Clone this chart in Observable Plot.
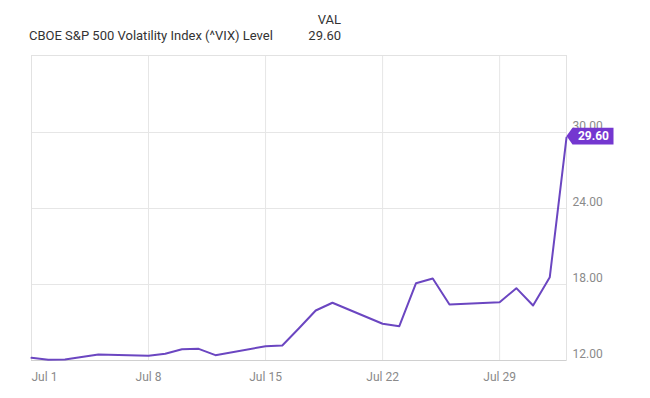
<!DOCTYPE html>
<html><head><meta charset="utf-8">
<script src="https://cdn.jsdelivr.net/npm/d3@7"></script>
<script src="https://cdn.jsdelivr.net/npm/@observablehq/plot@0.6"></script>
<style>
body{margin:0;background:#fff;font-family:Roboto,sans-serif;}
#legend{position:relative;height:48px;width:650px;color:#333;font-size:13px;}
#legend span{position:absolute;white-space:nowrap;line-height:1;}
#chart svg{display:block;}
</style></head><body>
<div id="legend">
 <span id="lg-name" style="left:29px;top:29px"></span>
 <span id="lg-head" style="right:309px;top:13px"></span>
 <span id="lg-val" style="right:309px;top:29px"></span>
</div>
<div id="chart"></div>
<script>
// ---- data ----
const seriesName = "CBOE S&P 500 Volatility Index (^VIX) Level";
const valueHeader = "VAL";
const dates = ["2024-07-01","2024-07-02","2024-07-03","2024-07-05","2024-07-08","2024-07-09","2024-07-10","2024-07-11","2024-07-12","2024-07-15","2024-07-16","2024-07-17","2024-07-18","2024-07-19","2024-07-22","2024-07-23","2024-07-24","2024-07-25","2024-07-26","2024-07-29","2024-07-30","2024-07-31","2024-08-01","2024-08-02"];
const vix = [12.21,12.06,12.07,12.47,12.37,12.53,12.89,12.92,12.42,13.13,13.18,14.55,15.95,16.56,14.90,14.71,18.10,18.47,16.42,16.60,17.71,16.34,18.58,29.60];
const xTickDates = ["2024-07-01","2024-07-08","2024-07-15","2024-07-22","2024-07-29"];
const yTickValues = [12,18,24,30];
const xDomain = ["2024-07-01","2024-08-02"];
const yDomain = [12,36.08];

// ---- build ----
const data = dates.map((d,i)=>({date:new Date(d), value:vix[i]}));
const last = data[data.length-1];
document.getElementById("lg-name").textContent = seriesName;
document.getElementById("lg-head").textContent = valueHeader;
document.getElementById("lg-val").textContent = last.value.toFixed(2);

const xt = xTickDates.map(d=>new Date(d));
const lineColor = "#6b46c1";
const badgeColor = "#7437d0";
const fmtX = d3.utcFormat("%b %-d");

const badge = {draw(ctx){ctx.moveTo(0,0);ctx.lineTo(6,-8.3);ctx.lineTo(47,-8.3);ctx.lineTo(47,8.3);ctx.lineTo(6,8.3);ctx.closePath();}};

const chart = Plot.plot({
  width:650, height:350,
  marginTop:7, marginBottom:38, marginLeft:31, marginRight:84,
  x:{type:"utc", domain:xDomain.map(d=>new Date(d))},
  y:{domain:yDomain},
  style:{fontFamily:"Roboto, sans-serif", fontSize:"12px", color:"#8a8a8a", background:"white"},
  marks:[
    Plot.gridY(yTickValues,{stroke:"#e6e6e6", strokeOpacity:1}),
    Plot.gridX(xt.slice(1),{stroke:"#e6e6e6", strokeOpacity:1}),
    Plot.frame({stroke:"#e2e2e2"}),
    Plot.ruleY([yDomain[0]],{stroke:"#d0d0d0"}),
    Plot.axisY(yTickValues,{anchor:"right", tickSize:0, tickPadding:6, dy:-6, tickFormat:d=>d.toFixed(2), label:null}),
    Plot.axisX(xt.slice(1),{anchor:"bottom", tickSize:0, tickPadding:12, tickFormat:fmtX, label:null}),
    Plot.axisX(xt.slice(0,1),{anchor:"bottom", tickSize:0, tickPadding:12, tickFormat:fmtX, textAnchor:"start", label:null}),
    Plot.line(data,{x:"date", y:"value", stroke:lineColor, strokeWidth:2, strokeLinejoin:"round"}),
    Plot.dot([last],{x:"date", y:"value", symbol:badge, r:5, fill:badgeColor, stroke:"none", dy:-1.5}),
    Plot.text([last],{x:"date", y:"value", text:d=>d.value.toFixed(2), dx:27, dy:-1.5, fill:"white", fontWeight:"bold", fontSize:12, textAnchor:"middle"})
  ]
});
document.getElementById("chart").appendChild(chart);
</script>
</body></html>
